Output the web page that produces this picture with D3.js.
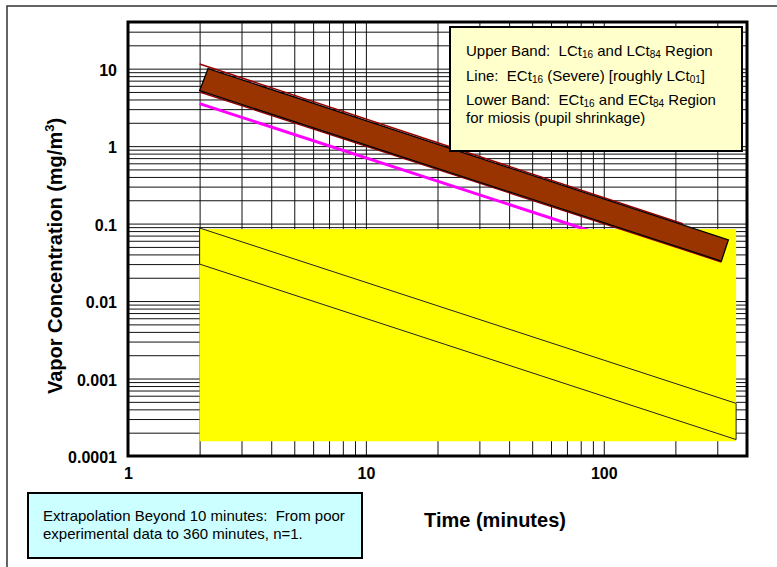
<!DOCTYPE html>
<html><head><meta charset="utf-8">
<script src="https://cdn.jsdelivr.net/npm/d3@7"></script>
<style>
body{margin:0;background:#fff;}
text{font-family:"Liberation Sans",Arial,sans-serif;}
</style></head>
<body><svg id="c" width="777" height="567"></svg>
<script>
// ---- data ----
const xTickValues = [1, 10, 100];
const xTickLabels = ["1", "10", "100"];
const yTickValues = [0.0001, 0.001, 0.01, 0.1, 1, 10];
const yTickLabels = ["0.0001", "0.001", "0.01", "0.1", "1", "10"];
const xGridValues = [2,3,4,5,6,7,8,9,10,20,30,40,50,60,70,80,90,100,200,300];
const yGridMantissa = [1,2,3,4,5,6,7,8,9];
const yGridDecades = [0.0001, 0.001, 0.01, 0.1, 1];
const yGridTop = [10, 20, 30];

// upper band (LCt16 / LCt84 region) polygon vertices
const upperBandT = [2, 2.17, 334, 312];
const upperBandC = [5.19, 10, 0.0614, 0.0328];
// LCt84 and LCt16 boundary lines
const lct84T = [2, 215];
const lct84C = [11.5, 0.0995];
const lct16T = [2, 312];
const lct16C = [5.0, 0.032];
// ECt16 (Severe) line
const ect16T = [2, 360];
const ect16C = [3.53, 0.0196];
// yellow region
const yellowT = [2, 360];
const yellowC = [0.000155, 0.085];
// lower band (ECt16 / ECt84 miosis) outline
const lowerBandT = [2, 360, 360, 2];
const lowerBandC = [0.0877, 0.000478, 0.000163, 0.030];

const legendLines = [
  [["Upper Band:  LCt",0],["16",1],[" and LCt",0],["84",1],[" Region",0]],
  [["Line:  ECt",0],["16",1],[" (Severe) [roughly LCt",0],["01",1],["]",0]],
  [["Lower Band:  ECt",0],["16",1],[" and ECt",0],["84",1],[" Region",0]],
  [["for miosis (pupil shrinkage)",0]]
];
const noteLines = ["Extrapolation Beyond 10 minutes:  From poor", "experimental data to 360 minutes, n=1."];

// ---- layout ----
const svg = d3.select("#c");
const L = 128, R = 747, T = 22, B = 456;
const x = d3.scaleLog().domain([1, 400]).range([L, R]);
const y = d3.scaleLog().domain([0.0001, 40]).range([B, T]);

// outer frame
svg.append("rect").attr("x",7).attr("y",6).attr("width",800).attr("height",600)
  .attr("fill","none").attr("stroke","#333").attr("stroke-width",1.5);

// grid
const yGridValues = [];
yGridDecades.forEach(d => yGridMantissa.forEach(m => yGridValues.push(+(d*m).toPrecision(3))));
yGridTop.forEach(v => yGridValues.push(v));

const gx = svg.append("g").attr("transform",`translate(0,${B})`)
  .call(d3.axisBottom(x).tickValues(xGridValues).tickSize(-(B-T)).tickFormat(""));
gx.select(".domain").remove();
gx.selectAll("line").attr("stroke","#111").attr("stroke-width",1);

const gy = svg.append("g").attr("transform",`translate(${L},0)`)
  .call(d3.axisRight(y).tickValues(yGridValues).tickSize(R-L).tickFormat(""));
gy.select(".domain").remove();
gy.selectAll("line").attr("stroke","#111").attr("stroke-width",1);

const line = d3.line().x(d => x(d[0])).y(d => y(d[1]));
const zip = (a,b) => a.map((v,i) => [v,b[i]]);

// ECt16 severe (magenta)
svg.append("path").attr("d", line(zip(ect16T, ect16C)))
  .attr("fill","none").attr("stroke","#FF00FF").attr("stroke-width",3);

// yellow region
svg.append("rect")
  .attr("x", x(yellowT[0])).attr("y", y(yellowC[1]))
  .attr("width", x(yellowT[1]) - x(yellowT[0]))
  .attr("height", y(yellowC[0]) - y(yellowC[1]))
  .attr("fill","#FFFF00");

// lower band outline
svg.append("path").attr("d", line(zip(lowerBandT, lowerBandC)) + "Z")
  .attr("fill","none").attr("stroke","#222").attr("stroke-width",1);

// dark red LCt lines
svg.append("path").attr("d", line(zip(lct84T, lct84C)))
  .attr("fill","none").attr("stroke","#990000").attr("stroke-width",1.5);
svg.append("path").attr("d", line(zip(lct16T, lct16C)))
  .attr("fill","none").attr("stroke","#990000").attr("stroke-width",1.5);

// upper band
svg.append("path").attr("d", line(zip(upperBandT, upperBandC)) + "Z")
  .attr("fill","#993300").attr("stroke","#000").attr("stroke-width",1.3);

// plot border
svg.append("rect").attr("x",L).attr("y",T).attr("width",R-L).attr("height",B-T)
  .attr("fill","none").attr("stroke","#000").attr("stroke-width",3);

// tick labels
const ax = svg.append("g").attr("transform",`translate(0,${B})`)
  .call(d3.axisBottom(x).tickValues(xTickValues).tickSize(0).tickPadding(12)
    .tickFormat((d,i) => xTickLabels[i]));
ax.select(".domain").remove();
ax.selectAll("text").attr("font-size",16).attr("font-weight","bold").attr("fill","#000")
  .style("font-family",'"Liberation Sans",Arial,sans-serif');

const ay = svg.append("g").attr("transform",`translate(${L},0)`)
  .call(d3.axisLeft(y).tickValues(yTickValues).tickSize(0).tickPadding(11)
    .tickFormat((d,i) => yTickLabels[i]));
ay.select(".domain").remove();
ay.selectAll("text").attr("font-size",16).attr("font-weight","bold").attr("fill","#000")
  .attr("dy","0.42em").style("font-family",'"Liberation Sans",Arial,sans-serif');

// axis titles
svg.append("text").attr("x",495).attr("y",527).attr("text-anchor","middle")
  .attr("font-size",20).attr("font-weight","bold").text("Time (minutes)");

const yt = svg.append("text").attr("transform","translate(62,256) rotate(-90)")
  .attr("text-anchor","middle").attr("font-size",20).attr("font-weight","bold");
yt.append("tspan").text("Vapor Concentration (mg/m");
yt.append("tspan").attr("font-size",13).attr("dy",-8).text("3");
yt.append("tspan").attr("dy",8).text(")");

// legend box
svg.append("rect").attr("x",450).attr("y",27).attr("width",292).attr("height",124)
  .attr("fill","#FFFFCC").attr("stroke","#000").attr("stroke-width",2);
const lb = [56, 81, 105, 123];
legendLines.forEach((parts, i) => {
  const t = svg.append("text").attr("x",466).attr("y",lb[i]).attr("font-size",15)
    .style("white-space","pre").attr("fill","#000");
  let prevSub = false;
  parts.forEach(([s, sub]) => {
    if (sub) t.append("tspan").attr("font-size",10).attr("dy",2).text(s);
    else t.append("tspan").attr("dy", prevSub ? -2 : 0).text(s);
    prevSub = !!sub;
  });
});

// note box
svg.append("rect").attr("x",28).attr("y",493).attr("width",334).attr("height",65)
  .attr("fill","#CCFFFF").attr("stroke","#000").attr("stroke-width",2);
noteLines.forEach((s,i) => {
  svg.append("text").attr("x",43).attr("y",521 + i*18).attr("font-size",15)
    .style("white-space","pre").attr("fill","#000").text(s);
});
</script></body></html>
